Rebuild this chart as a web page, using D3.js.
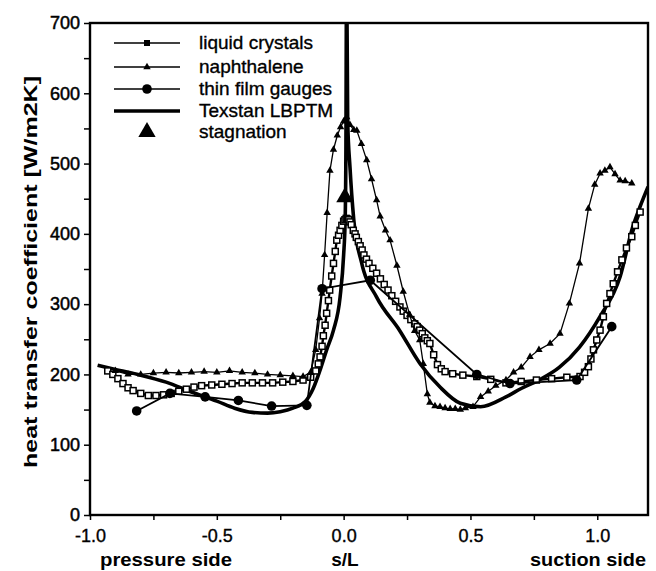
<!DOCTYPE html>
<html>
<head>
<meta charset="utf-8">
<script src="https://cdn.jsdelivr.net/npm/d3@7"></script>
<style>
  html, body { margin: 0; padding: 0; background: #fff; }
  svg { display: block; }
  text { font-family: "Liberation Sans", Arial, Helvetica, sans-serif; fill: #000; }
</style>
</head>
<body>
<svg id="chart" width="656" height="571"></svg>
<script>
// Heat transfer coefficient along the blade surface, s/L (pressure side < 0 < suction side)

const liquidCrystalsS = [-0.93,-0.91,-0.89,-0.87,-0.85,-0.83,-0.8,-0.77,-0.74,-0.71,-0.68,-0.65,-0.62,-0.59,-0.56,-0.52,-0.48,-0.44,-0.4,-0.36,-0.32,-0.28,-0.24,-0.2,-0.16,-0.13,-0.11,-0.1,-0.093,-0.085,-0.08,-0.073,-0.067,-0.06,-0.055,-0.047,-0.04,-0.033,-0.027,-0.02,-0.014,-0.007,0.0,0.005,0.01,0.015,0.02,0.025,0.03,0.038,0.045,0.05,0.058,0.065,0.073,0.08,0.09,0.1,0.115,0.13,0.145,0.16,0.175,0.19,0.205,0.222,0.235,0.25,0.265,0.28,0.29,0.3,0.31,0.32,0.33,0.34,0.355,0.37,0.385,0.4,0.43,0.47,0.525,0.58,0.64,0.7,0.76,0.82,0.88,0.932,0.95,0.965,0.975,0.985,0.998,1.011,1.024,1.037,1.05,1.063,1.08,1.097,1.115,1.136,1.15,1.169];
const liquidCrystalsH = [205,200,194,187,181,177,173,170,170,171,173,176,179,182,184,185,186,187,188,188,188,188,189,190,192,196,205,215,225,240,255,270,287,305,320,340,358,375,391,398,405,412,418,420,422,421,420,417,413,405,400,395,389,383,377,370,364,358,351,344,336,328,320,312,304,296,290,284,278,272,268,263,258,252,248,244,228,214,208,204,201,199,197,193,188,190,192,194,196,197,203,211,222,235,249,263,282,301,315,329,346,363,380,396,412,431];

const naphthaleneS = [-0.9,-0.85,-0.8,-0.75,-0.7,-0.65,-0.6,-0.55,-0.5,-0.45,-0.4,-0.35,-0.3,-0.25,-0.2,-0.16,-0.13,-0.11,-0.095,-0.085,-0.075,-0.065,-0.054,-0.04,-0.025,-0.012,0.0,0.012,0.025,0.04,0.052,0.07,0.091,0.11,0.13,0.144,0.165,0.183,0.21,0.235,0.26,0.28,0.3,0.314,0.33,0.34,0.36,0.38,0.4,0.42,0.44,0.46,0.48,0.51,0.54,0.57,0.6,0.64,0.67,0.7,0.735,0.77,0.814,0.853,0.89,0.93,0.965,0.99,1.011,1.03,1.05,1.07,1.09,1.11,1.136];
const naphthaleneH = [205,200,200,202,203,202,203,204,203,205,203,202,200,199,198,197,203,235,280,315,370,430,490,520,540,552,560,566,555,548,547,528,505,478,448,425,405,391,355,318,285,262,249,215,172,160,155,154,152,151,151,150,152,154,168,176,184,192,203,210,225,235,244,258,301,358,436,470,486,490,495,485,476,475,472];

const thinFilmS = [-0.816,-0.685,-0.546,-0.415,-0.284,-0.145,-0.085,0.105,0.525,0.656,0.919,1.057];
const thinFilmH = [148,173,168,163,155,156,322,334,200,187,192,268];

const texstanS = [-0.97,-0.9,-0.8,-0.7,-0.6,-0.5,-0.43,-0.36,-0.3,-0.25,-0.2,-0.15,-0.12,-0.093,-0.067,-0.04,-0.014,0.0,0.006,0.009,0.011,0.013,0.016,0.025,0.04,0.07,0.13,0.22,0.3,0.38,0.46,0.54,0.64,0.7,0.77,0.85,0.93,1.01,1.09,1.14,1.17,1.2];
const texstanH = [213,207,199,189,175,162,152,146,145,147,152,162,180,206,235,263,310,370,420,520,720,720,560,495,420,360,310,263,216,182,159,154,168,180,192,210,239,282,339,410,440,467];

const stagnationS = [0.005];
const stagnationH = [452];

const xTicks = [-1.0, -0.5, 0.0, 0.5, 1.0];
const yTicks = [0, 100, 200, 300, 400, 500, 600, 700];
const legendLabels = ["liquid crystals", "naphthalene", "thin film gauges", "Texstan LBPTM", "stagnation"];

const svg = d3.select("#chart");
const x = d3.scaleLinear().domain([-1.0, 1.2]).range([90, 648]);
const y = d3.scaleLinear().domain([0, 700]).range([515, 23]);

const pts = (s, h) => s.map((v, i) => [v, h[i]]);
const lc = pts(liquidCrystalsS, liquidCrystalsH);
const na = pts(naphthaleneS, naphthaleneH);
const tf = pts(thinFilmS, thinFilmH);
const tx = pts(texstanS, texstanH);
const st = pts(stagnationS, stagnationH);

svg.append("clipPath").attr("id", "plot-clip")
  .append("rect").attr("x", 90).attr("y", 23).attr("width", 558).attr("height", 492);

const plot = svg.append("g").attr("clip-path", "url(#plot-clip)");
const smooth = d3.line().x(d => x(d[0])).y(d => y(d[1])).curve(d3.curveMonotoneX);
const straight = d3.line().x(d => x(d[0])).y(d => y(d[1]));

// Texstan prediction: heavy solid line
plot.append("path").datum(tx)
  .attr("d", smooth)
  .attr("fill", "none").attr("stroke", "#000").attr("stroke-width", 3.6)
  .attr("stroke-linejoin", "round");

// liquid crystals: line with open squares
plot.append("path").datum(lc).attr("d", straight)
  .attr("fill", "none").attr("stroke", "#000").attr("stroke-width", 2.4);
plot.selectAll("rect.lc").data(lc).join("rect").attr("class", "lc")
  .attr("x", d => x(d[0]) - 3).attr("y", d => y(d[1]) - 3)
  .attr("width", 6).attr("height", 6)
  .attr("fill", "#fff").attr("stroke", "#000").attr("stroke-width", 1.5);

// naphthalene: thin line with small triangles
plot.append("path").datum(na).attr("d", straight)
  .attr("fill", "none").attr("stroke", "#000").attr("stroke-width", 1.3);
const tri = d3.symbol().type(d3.symbolTriangle).size(24);
plot.selectAll("path.na").data(na).join("path").attr("class", "na")
  .attr("d", tri).attr("transform", d => `translate(${x(d[0])},${y(d[1])})`)
  .attr("fill", "#000");

// thin film gauges: line with filled circles
plot.append("path").datum(tf).attr("d", straight)
  .attr("fill", "none").attr("stroke", "#000").attr("stroke-width", 1.8);
plot.selectAll("circle.tf").data(tf).join("circle").attr("class", "tf")
  .attr("cx", d => x(d[0])).attr("cy", d => y(d[1])).attr("r", 4.8)
  .attr("fill", "#000");

// stagnation point
const bigTri = d3.symbol().type(d3.symbolTriangle).size(130);
plot.selectAll("path.st").data(st).join("path").attr("class", "st")
  .attr("d", bigTri).attr("transform", d => `translate(${x(d[0])},${y(d[1])})`)
  .attr("fill", "#000");

// axes: major ticks labelled, minor ticks at half steps
const minorX = d3.range(-1.0, 1.2001, 0.25);
const minorY = d3.range(0, 701, 50);
const fmtX = d => d3.format(".1f")(d).replace("\u2212", "-");
const axisB = d3.axisBottom(x).tickValues(minorX).tickSize(5)
  .tickFormat(d => xTicks.some(t => Math.abs(t - d) < 1e-9) ? fmtX(d) : "");
const axisL = d3.axisLeft(y).tickValues(minorY).tickSize(6)
  .tickFormat(d => yTicks.includes(d) ? d : "");

const gx = svg.append("g").attr("transform", "translate(0,515)").call(axisB);
gx.select(".domain").remove();
gx.selectAll(".tick line").attr("stroke-width", 1.5);
gx.selectAll("text").attr("font-size", 18).attr("dy", "1.05em")
  .attr("stroke", "#000").attr("stroke-width", 0.35);

const gy = svg.append("g").attr("transform", "translate(90,0)").call(axisL);
gy.select(".domain").remove();
gy.selectAll(".tick line").attr("stroke-width", 1.5);
gy.selectAll("text").attr("font-size", 18).attr("dx", "-0.05em")
  .attr("stroke", "#000").attr("stroke-width", 0.5);

// frame
svg.append("rect").attr("x", 90).attr("y", 23).attr("width", 558).attr("height", 492)
  .attr("fill", "none").attr("stroke", "#000").attr("stroke-width", 2.4);

// axis titles
svg.append("text").attr("transform", "translate(37,272) rotate(-90)")
  .attr("text-anchor", "middle").attr("font-size", 19).attr("font-weight", "bold")
  .attr("textLength", 392).attr("lengthAdjust", "spacingAndGlyphs")
  .text("heat transfer coefficient [W/m2K]");
const bottomY = 566;
svg.append("text").attr("x", 166).attr("y", bottomY).attr("text-anchor", "middle")
  .attr("font-size", 19).attr("font-weight", "bold")
  .attr("textLength", 132).attr("lengthAdjust", "spacingAndGlyphs").text("pressure side");
svg.append("text").attr("x", 345).attr("y", bottomY).attr("text-anchor", "middle")
  .attr("font-size", 19).attr("font-weight", "bold").text("s/L");
svg.append("text").attr("x", 646).attr("y", bottomY).attr("text-anchor", "end")
  .attr("font-size", 19).attr("font-weight", "bold")
  .attr("textLength", 116).attr("lengthAdjust", "spacingAndGlyphs").text("suction side");

// legend
const rows = [43, 67, 89, 111, 132];
const lg = svg.append("g");
legendLabels.forEach((lab, i) => {
  const yy = rows[i];
  if (i < 4) {
    lg.append("line").attr("x1", 114).attr("x2", 180).attr("y1", yy).attr("y2", yy)
      .attr("stroke", "#000").attr("stroke-width", i === 3 ? 3.6 : 1.6);
  }
  if (i === 0) lg.append("rect").attr("x", 144).attr("y", yy - 3).attr("width", 6).attr("height", 6).attr("fill", "#000");
  if (i === 1) lg.append("path").attr("d", tri).attr("transform", `translate(147,${yy})`).attr("fill", "#000");
  if (i === 2) lg.append("circle").attr("cx", 147).attr("cy", yy).attr("r", 4.8).attr("fill", "#000");
  if (i === 4) lg.append("path").attr("d", bigTri).attr("transform", `translate(147,${yy})`).attr("fill", "#000");
  lg.append("text").attr("x", 199).attr("y", yy + 6).attr("font-size", 19)
    .attr("stroke", "#000").attr("stroke-width", 0.35).text(lab);
});
</script>
</body>
</html>
